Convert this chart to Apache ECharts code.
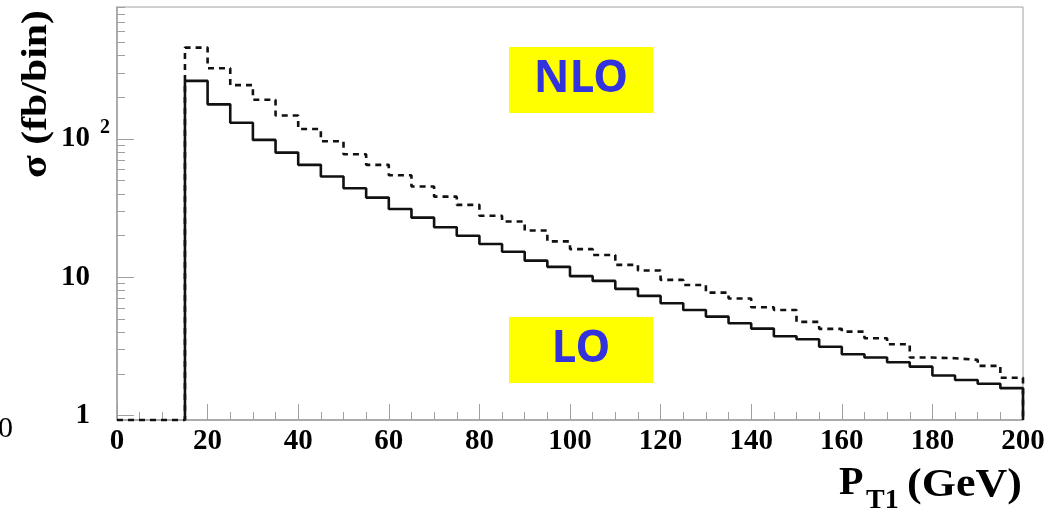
<!DOCTYPE html>
<html>
<head>
<meta charset="utf-8">
<title>sigma vs PT1</title>
<script src="https://cdn.jsdelivr.net/npm/echarts@6/dist/echarts.min.js"></script>
<style>
  html, body { margin: 0; padding: 0; background: #fff; }
  #chart { width: 1057px; height: 514px; }
</style>
</head>
<body>
<div id="chart"></div>
<script>
// bin left edges (GeV), 5 GeV bins
const binEdges = [0, 5, 10, 15, 20, 25, 30, 35, 40, 45, 50, 55, 60, 65, 70, 75, 80, 85, 90, 95,
  100, 105, 110, 115, 120, 125, 130, 135, 140, 145, 150, 155, 160, 165, 170, 175, 180, 185, 190, 195]
const binEnd = 200
// LO (solid), fb/bin; 0 = empty bin
const loValues = [0, 0, 0, 263, 178, 131, 98.5, 79.7, 65.0, 53.5, 44.1, 37.7, 31.2, 27.0, 23.0, 20.0,
  17.4, 15.3, 13.2, 11.9, 10.2, 9.42, 8.25, 7.34, 6.50, 5.81, 5.20, 4.66, 4.26, 3.75,
  3.57, 3.15, 2.78, 2.63, 2.43, 2.26, 1.95, 1.81, 1.70, 1.58]
// NLO (dashed), fb/bin
const nloValues = [0, 0, 0, 458, 325, 245, 192, 148, 118, 96.4, 77.6, 65.0, 54.7, 45.3, 38.3, 33.4,
  27.9, 25.3, 21.8, 18.2, 16.0, 14.5, 12.3, 11.2, 9.58, 8.81, 7.75, 7.02, 6.08, 5.81,
  4.76, 4.24, 4.05, 3.63, 3.28, 2.63, 2.60, 2.53, 2.29, 1.88]
const yMajorTicks = [1, 10, 100]
const yMinorTicks = [2, 3, 4, 5, 6, 7, 8, 9, 20, 30, 40, 50, 60, 70, 80, 90, 200, 300, 400, 500, 600, 700, 800, 900]
const yMin = 0.93
const yMax = 900

const axisGray = '#a0a0a0'
const serif = '"Liberation Serif", "DejaVu Serif", serif'

// empty bins sit on the bottom of the log axis; skipLeading drops the empty bins before the first filled one
function histPoints(values, skipLeading) {
  let pts = binEdges.map((x, i) => [x, values[i] > 0 ? values[i] : yMin])
  if (skipLeading) {
    const first = values.findIndex((v) => v > 0)
    pts = [[binEdges[first], yMin]].concat(pts.slice(first))
  }
  pts.push([binEnd, yMin])
  return pts
}

const chart = echarts.init(document.getElementById('chart'))
const option = {
  animation: false,
  backgroundColor: '#fff',
  grid: {
    left: 117,
    right: 34,
    top: 7,
    bottom: 94,
    show: true,
    borderColor: axisGray,
    borderWidth: 1,
    containLabel: false,
    outerBoundsMode: 'none'
  },
  xAxis: {
    type: 'value',
    min: 0,
    max: 200,
    interval: 20,
    axisLine: { show: true, lineStyle: { color: axisGray, width: 1.5 } },
    axisTick: { show: true, inside: true, length: 16, lineStyle: { color: axisGray, width: 1 } },
    minorTick: { show: true, splitNumber: 4, length: 8, lineStyle: { color: axisGray, width: 1 } },
    splitLine: { show: false },
    minorSplitLine: { show: false },
    axisLabel: {
      show: true,
      margin: 7,
      color: '#000',
      fontFamily: serif,
      fontWeight: 'bold',
      fontSize: 29,
      showMinLabel: true,
      showMaxLabel: true
    }
  },
  yAxis: [
    {
      type: 'log',
      logBase: 10,
      min: yMin,
      max: yMax,
      axisLine: { show: true, lineStyle: { color: axisGray, width: 1.5 } },
      axisTick: { show: true, inside: true, length: 17, customValues: yMajorTicks, lineStyle: { color: axisGray, width: 1 } },
      splitLine: { show: false },
      axisLabel: {
        show: true,
        customValues: yMajorTicks,
        margin: 27,
        color: '#000',
        fontFamily: serif,
        fontWeight: 'bold',
        fontSize: 29,
        formatter: (v) => (Math.abs(v - 100) < 1e-6 ? '10' : String(Math.round(v)))
      }
    },
    {
      type: 'log',
      logBase: 10,
      min: yMin,
      max: yMax,
      position: 'left',
      axisLine: { show: false },
      axisTick: { show: true, inside: true, length: 8, customValues: yMinorTicks, lineStyle: { color: axisGray, width: 1 } },
      splitLine: { show: false },
      axisLabel: { show: false }
    }
  ],
  series: [
    {
      name: 'NLO',
      type: 'line',
      step: 'end',
      symbol: 'none',
      clip: false,
      data: histPoints(nloValues, false),
      lineStyle: { color: '#111', width: 2.6, type: [6, 5] },
      z: 3
    },
    {
      name: 'LO',
      type: 'line',
      step: 'end',
      symbol: 'none',
      clip: false,
      data: histPoints(loValues, true),
      lineStyle: { color: '#111', width: 2.6, type: 'solid' },
      z: 4
    }
  ],
  graphic: [
    // superscript of 10^2
    { type: 'text', left: 100, top: 118, style: { text: '2', font: 'bold 20px ' + serif, fill: '#000' } },
    // stray label fragment at the left edge
    { type: 'text', x: 13, y: 429, style: { text: '0', font: '30px ' + serif, fill: '#000', align: 'right', verticalAlign: 'middle' } },
    // y axis title
    {
      type: 'text', x: 37, y: 94, rotation: Math.PI / 2, scaleX: 1.16,
      style: { text: 'σ (fb/bin)', font: 'bold 36px ' + serif, fill: '#000', align: 'center', verticalAlign: 'middle' }
    },
    // x axis title
    { type: 'text', x: 839, y: 484, style: { text: 'P', font: 'bold 40px ' + serif, fill: '#000', align: 'left', verticalAlign: 'middle' } },
    { type: 'text', x: 866, y: 501, style: { text: 'T1', font: 'bold 28px ' + serif, fill: '#000', align: 'left', verticalAlign: 'middle' } },
    {
      type: 'text', x: 907, y: 486, scaleX: 1.1,
      style: { text: '(GeV)', font: 'bold 40px ' + serif, fill: '#000', align: 'left', verticalAlign: 'middle' }
    },
    // labels
    { type: 'rect', shape: { x: 509, y: 47, width: 144, height: 66 }, style: { fill: '#ffff00' }, z: 10 },
    { type: 'text', x: 581, y: 79, z: 11, style: { text: 'NLO', font: 'bold 44px "Noto Sans", sans-serif', fill: '#3333dd', align: 'center', verticalAlign: 'middle' } },
    { type: 'rect', shape: { x: 509, y: 317, width: 144, height: 66 }, style: { fill: '#ffff00' }, z: 10 },
    { type: 'text', x: 581, y: 349, z: 11, style: { text: 'LO', font: 'bold 44px "Noto Sans", sans-serif', fill: '#3333dd', align: 'center', verticalAlign: 'middle' } }
  ]
}
chart.setOption(option)
</script>
</body>
</html>
